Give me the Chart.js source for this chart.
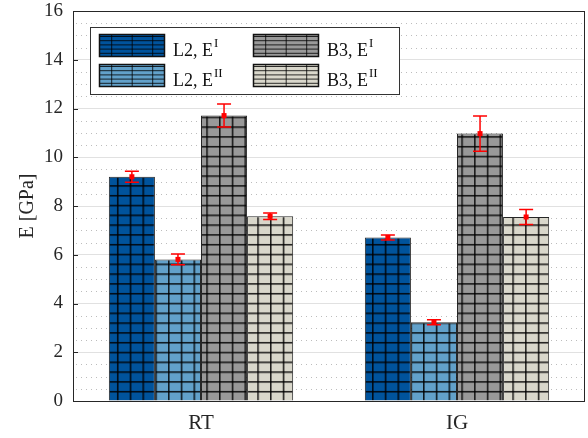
<!DOCTYPE html>
<html>
<head>
<meta charset="utf-8">
<script src="https://cdn.jsdelivr.net/npm/chart.js@4/dist/chart.umd.min.js"></script>
<style>
  html, body { margin: 0; padding: 0; background: #ffffff; }
  #wrap { width: 588px; height: 438px; }
</style>
</head>
<body>
<div id="wrap"><canvas id="c" width="588" height="438"></canvas></div>
<script>
// Young's modulus per specimen series, mean values and half-widths of the scatter
const categories = ['RT', 'IG'];
const seriesNames = [['L2, E', 'I'], ['L2, E', 'II'], ['B3, E', 'I'], ['B3, E', 'II']];
const l2E1 = [9.20, 6.71];
const l2E2 = [5.81, 3.23];
const b3E1 = [11.71, 10.97];
const b3E2 = [7.58, 7.55];
const l2E1Err = [0.23, 0.10];
const l2E2Err = [0.22, 0.10];
const b3E1Err = [0.47, 0.72];
const b3E2Err = [0.13, 0.31];
const yTickValues = [0, 2, 4, 6, 8, 10, 12, 14, 16];

const FONT = "'Liberation Serif', 'Times New Roman', serif";
const TEXT = '#262626';
const fills = ['#00539c', '#62a1ca', '#999999', '#d9d7cb'];

const canvas = document.getElementById('c');
const ctx0 = canvas.getContext('2d');

// grid-like hatch used inside the bars
function hatch(color) {
  const t = document.createElement('canvas');
  t.width = 13; t.height = 10;
  const c = t.getContext('2d');
  c.fillStyle = color;
  c.fillRect(0, 0, 13, 10);
  c.fillStyle = 'rgba(0,0,0,0.85)';
  c.fillRect(0, 0, 1.6, 10);
  c.fillRect(0, 0, 13, 1.6);
  const p = ctx0.createPattern(t, 'repeat');
  p.setTransform(new DOMMatrix([0.981, 0, 0, 0.98, 2.15, 8.7]));
  return p;
}

const series = [l2E1, l2E2, b3E1, b3E2];
const errs = [l2E1Err, l2E2Err, b3E1Err, b3E2Err];

const datasets = series.map((d, i) => ({
  label: seriesNames[i].join(''),
  data: d,
  errors: errs[i],
  swatch: fills[i],
  backgroundColor: hatch(fills[i]),
  borderColor: 'rgba(0,0,0,0.85)',
  borderWidth: 1,
  borderSkipped: 'start',
  barPercentage: 1.0,
  categoryPercentage: 0.72
}));

// dotted minor grid, plot frame and inward ticks
const framePlugin = {
  id: 'frame',
  beforeDatasetsDraw(chart) {
    const { ctx, chartArea: a, scales: { y } } = chart;
    ctx.save();
    ctx.strokeStyle = '#bdbdbd';
    ctx.lineWidth = 1;
    ctx.setLineDash([1, 4]);
    for (let v = 0.5; v < 16; v += 0.5) {
      if (v % 2 === 0) continue;
      const py = Math.round(y.getPixelForValue(v)) + 0.5;
      ctx.beginPath();
      ctx.moveTo(a.left + 3, py);
      ctx.lineTo(a.right, py);
      ctx.stroke();
    }
    ctx.restore();
  },
  afterDraw(chart) {
    const { ctx, chartArea: a, scales: { y } } = chart;
    ctx.save();
    ctx.strokeStyle = TEXT;
    ctx.lineWidth = 1;
    ctx.beginPath();
    yTickValues.forEach(v => {
      const py = Math.round(y.getPixelForValue(v)) + 0.5;
      ctx.moveTo(a.left, py);
      ctx.lineTo(a.left + 5, py);
    });
    ctx.stroke();
    ctx.strokeRect(Math.round(a.left) + 0.5, Math.round(a.top) + 0.5,
                   Math.round(a.right - a.left) - 1, Math.round(a.bottom - a.top));
    ctx.restore();
  }
};

// red scatter bars with caps and centre marker
const errorBarPlugin = {
  id: 'errorBars',
  afterDatasetsDraw(chart) {
    const { ctx, scales: { y } } = chart;
    ctx.save();
    ctx.strokeStyle = '#ff0000';
    ctx.fillStyle = '#ff0000';
    ctx.lineWidth = 1.5;
    chart.data.datasets.forEach((ds, i) => {
      chart.getDatasetMeta(i).data.forEach((bar, j) => {
        const v = ds.data[j], e = ds.errors[j];
        const x = bar.x;
        const yt = y.getPixelForValue(v + e);
        const yb = y.getPixelForValue(v - e);
        const yc = y.getPixelForValue(v);
        ctx.beginPath();
        ctx.moveTo(x, yt); ctx.lineTo(x, yb);
        ctx.moveTo(x - 7, yt); ctx.lineTo(x + 7, yt);
        ctx.moveTo(x - 7, yb); ctx.lineTo(x + 7, yb);
        ctx.stroke();
        ctx.fillRect(x - 2.5, yc - 2.5, 5, 5);
      });
    });
    ctx.restore();
  }
};

// legend with hatched swatches and superscripted labels
const legendPlugin = {
  id: 'hatchLegend',
  afterDraw(chart) {
    const ctx = chart.ctx;
    ctx.save();
    ctx.fillStyle = '#ffffff';
    ctx.fillRect(90.5, 27.5, 309, 67);
    ctx.strokeStyle = '#333333';
    ctx.lineWidth = 1;
    ctx.strokeRect(90.5, 27.5, 309, 67);
    const cols = [99, 253], rows = [34, 64];
    chart.data.datasets.forEach((ds, i) => {
      const px = cols[Math.floor(i / 2)], py = rows[i % 2];
      const pw = 66, ph = 23;
      ctx.save();
      ctx.beginPath();
      ctx.rect(px, py, pw, ph);
      ctx.clip();
      ctx.fillStyle = ds.swatch;
      ctx.fillRect(px, py, pw, ph);
      ctx.strokeStyle = 'rgba(0,0,0,0.8)';
      ctx.lineWidth = 1;
      ctx.beginPath();
      for (let yy = py + 2.5; yy < py + ph; yy += 4.2) {
        ctx.moveTo(px, yy); ctx.lineTo(px + pw, yy);
      }
      for (let xx = px + 12.7; xx < px + pw; xx += 20.5) {
        ctx.moveTo(xx, py); ctx.lineTo(xx, py + ph);
      }
      ctx.stroke();
      ctx.restore();
      ctx.strokeStyle = '#111111';
      ctx.lineWidth = 1.5;
      ctx.strokeRect(px + 0.5, py + 0.5, pw - 1, ph - 1);

      const [base, sup] = seriesNames[i];
      ctx.fillStyle = '#111111';
      ctx.textBaseline = 'alphabetic';
      ctx.textAlign = 'left';
      ctx.font = '18px ' + FONT;
      const tx = px + 74, ty = py + 21.5;
      ctx.fillText(base, tx, ty);
      const w = ctx.measureText(base).width;
      ctx.font = '13px ' + FONT;
      ctx.fillText(sup, tx + w + 1, ty - 8.5);
    });
    ctx.restore();
  }
};

new Chart(canvas, {
  type: 'bar',
  data: { labels: categories, datasets },
  plugins: [framePlugin, errorBarPlugin, legendPlugin],
  options: {
    responsive: false,
    animation: false,
    devicePixelRatio: 1,
    layout: { padding: { top: 11, right: 3, left: 0, bottom: 0 } },
    plugins: { legend: { display: false }, tooltip: { enabled: false } },
    scales: {
      x: {
        grid: { display: false, drawTicks: false },
        border: { display: false },
        ticks: { color: TEXT, font: { family: FONT, size: 21 }, padding: 10 },
        afterFit: s => { s.height = 37; }
      },
      y: {
        min: 0,
        max: 16,
        afterBuildTicks: s => { s.ticks = yTickValues.map(v => ({ value: v })); },
        grid: { color: '#e1e1e1', lineWidth: 1, drawTicks: false },
        border: { display: false },
        ticks: { color: TEXT, font: { family: FONT, size: 19 }, padding: 10 },
        title: {
          display: true,
          text: 'E [GPa]',
          color: TEXT,
          font: { family: FONT, size: 20 },
          padding: { top: 16, bottom: 0 }
        },
        afterFit: s => { s.width = 73; s.paddingTop = 0; s.paddingBottom = 0; }
      }
    }
  }
});
</script>
</body>
</html>
